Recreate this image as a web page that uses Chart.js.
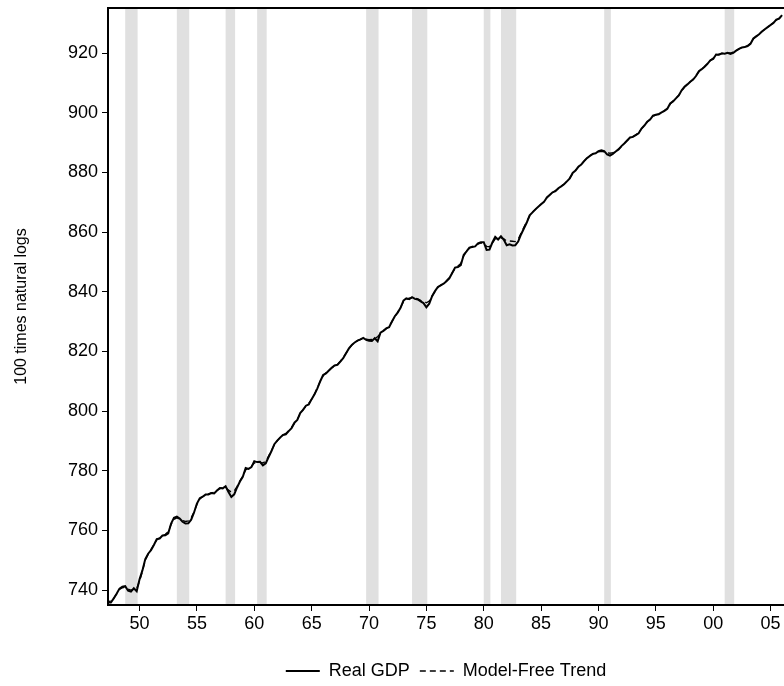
<!DOCTYPE html>
<html>
<head>
<meta charset="utf-8">
<script src="https://cdn.jsdelivr.net/npm/chart.js@4/dist/chart.umd.min.js"></script>
<style>
  html, body { margin: 0; padding: 0; background: #fff; }
  canvas { display: block; }
</style>
</head>
<body>
<canvas id="gdpChart" width="784" height="686"></canvas>
<script>
// quarterly, first value is 1947Q1 (100 x ln real GDP)
var firstYear = 1947
var realGdp = [
  735.9, 735.8, 735.8, 737.2,
  738.8, 740.5, 741.1, 741.3,
  739.8, 739.5, 740.6, 739.6,
  743.6, 746.6, 750.4, 752.2,
  753.4, 755.1, 757.1, 757.3,
  758.3, 758.4, 759.0, 762.3,
  764.2, 764.6, 764.0, 762.9,
  762.3, 762.4, 763.6, 766.0,
  769.0, 770.8, 771.3, 772.0,
  772.0, 772.5, 772.4, 773.4,
  774.2, 774.1, 774.8, 772.9,
  771.2, 772.1, 774.4, 776.4,
  778.0, 780.9, 780.6, 781.2,
  783.2, 782.9, 783.0, 781.8,
  782.5, 784.6, 786.6, 788.9,
  790.1, 791.1, 792.0, 792.2,
  793.3, 794.3, 796.1, 797.0,
  799.3, 800.4, 801.8, 802.2,
  804.0, 805.6, 807.6, 810.0,
  812.1, 812.6, 813.6, 814.5,
  815.3, 815.5, 816.6, 817.7,
  819.4, 821.0, 822.2, 823.0,
  823.6, 824.0, 824.5, 823.9,
  823.6, 823.5, 824.4, 823.4,
  826.3, 826.9, 827.7, 828.1,
  830.0, 831.8, 833.0, 834.6,
  837.0, 837.8, 837.5, 838.2,
  837.6, 837.4, 836.8, 836.2,
  834.8, 836.0, 838.5, 840.2,
  841.6, 842.1, 842.7, 843.5,
  844.5, 846.3, 848.1, 848.3,
  848.9, 852.3, 853.5, 854.8,
  855.0, 855.2, 856.2, 856.6,
  856.6, 854.0, 854.1, 856.5,
  858.4, 857.5, 858.6, 857.4,
  855.6, 855.9, 855.5, 855.6,
  856.8, 859.2, 861.2, 863.2,
  865.6, 866.6, 867.6, 868.5,
  869.3, 870.1, 871.6, 872.4,
  873.3, 873.7, 874.7, 875.3,
  876.0, 877.0, 878.0, 879.8,
  880.6, 881.9, 882.6, 883.8,
  884.8, 885.5, 886.2, 886.4,
  887.1, 887.4, 887.1, 886.0,
  885.6, 886.2, 887.0, 887.7,
  888.8, 889.7, 890.7, 891.7,
  891.9, 892.5, 893.1, 894.7,
  895.7, 897.0, 897.7, 899.0,
  899.3, 899.5, 900.1, 900.6,
  901.3, 903.1, 903.8, 904.8,
  905.8, 907.5, 908.7, 909.5,
  910.4, 911.1, 912.3, 913.9,
  914.6, 915.4, 916.4, 917.6,
  918.0, 919.5, 919.4, 919.9,
  919.8, 920.1, 919.7, 920.1,
  920.8, 921.4, 921.9, 922.0,
  922.3, 923.1, 924.9, 925.6,
  926.3, 927.2, 928.0, 928.7,
  929.4, 930.1, 931.2, 931.5,
  932.7
]
var modelFreeTrend = [
  735.6, 736.0, 736.4, 737.3,
  738.7, 740.2, 740.8, 741.0,
  740.3, 740.0, 740.3, 740.5,
  743.0, 746.3, 750.0, 752.0,
  753.6, 755.2, 756.8, 757.5,
  758.2, 758.7, 759.6, 762.0,
  763.7, 764.2, 763.8, 763.3,
  763.0, 763.2, 764.2, 766.2,
  768.7, 770.5, 771.3, 771.9,
  772.2, 772.6, 772.8, 773.4,
  774.0, 774.3, 774.3, 773.5,
  772.8, 773.2, 774.7, 776.6,
  778.2, 780.3, 780.9, 781.5,
  782.6, 783.0, 782.8, 782.6,
  783.1, 784.9, 786.8, 788.7,
  790.0, 791.1, 791.9, 792.5,
  793.4, 794.5, 795.9, 797.2,
  799.1, 800.5, 801.6, 802.6,
  804.0, 805.7, 807.8, 810.0,
  811.8, 812.8, 813.6, 814.5,
  815.2, 815.7, 816.7, 817.9,
  819.4, 820.9, 822.1, 823.0,
  823.6, 824.0, 824.2, 824.1,
  823.9, 824.0, 824.4, 824.9,
  826.0, 826.9, 827.6, 828.4,
  830.0, 831.7, 833.1, 834.8,
  836.6, 837.4, 837.8, 838.0,
  837.9, 837.6, 837.1, 836.8,
  836.3, 836.9, 838.6, 840.1,
  841.4, 842.2, 842.9, 843.7,
  844.7, 846.3, 847.8, 848.6,
  849.5, 852.0, 853.6, 854.6,
  855.2, 855.5, 856.0, 856.4,
  856.2, 855.2, 855.1, 856.3,
  857.7, 857.9, 858.1, 857.7,
  857.0, 857.0, 856.9, 856.8,
  857.6, 859.6, 861.6, 863.5,
  865.4, 866.7, 867.6, 868.5,
  869.4, 870.2, 871.5, 872.5,
  873.2, 873.9, 874.6, 875.4,
  876.1, 877.0, 878.2, 879.6,
  880.7, 881.8, 882.8, 883.8,
  884.8, 885.6, 886.1, 886.6,
  886.9, 887.1, 886.9, 886.6,
  886.4, 886.6, 887.1, 887.8,
  888.7, 889.7, 890.7, 891.5,
  892.0, 892.6, 893.3, 894.6,
  895.7, 896.9, 897.8, 898.8,
  899.3, 899.6, 900.1, 900.7,
  901.5, 902.9, 903.9, 904.8,
  905.9, 907.4, 908.6, 909.6,
  910.4, 911.2, 912.4, 913.7,
  914.6, 915.5, 916.4, 917.5,
  918.3, 919.2, 919.6, 919.8,
  919.9, 920.0, 920.0, 920.3,
  920.8, 921.4, 921.8, 922.2,
  922.5, 923.3, 924.7, 925.6,
  926.4, 927.2, 928.0, 928.7,
  929.4, 930.2, 931.0, 931.7,
  932.6
]
// recession shading, [start, end] in years
var recessionStart = [1948.75, 1953.25, 1957.5, 1960.25, 1969.75, 1973.75, 1980.0, 1981.5, 1990.5, 2001.0]
var recessionEnd   = [1949.83, 1954.33, 1958.33, 1961.08, 1970.83, 1975.08, 1980.58, 1982.83, 1991.08, 2001.83]
var xTicks = [1950, 1955, 1960, 1965, 1970, 1975, 1980, 1985, 1990, 1995, 2000, 2005]
var yTicks = [740, 760, 780, 800, 820, 840, 860, 880, 900, 920]

function toPoints(arr){
  return arr.map(function(v, i){ return { x: firstYear + i / 4, y: v } })
}

var FONT = 'Arial, "Liberation Sans", Helvetica, sans-serif'

// grey bars behind everything, plus the top frame line
var recessionPlugin = {
  id: 'recessions',
  afterLayout: function(chart){
    // nudge the legend a little lower, like the original
    if (chart.legend) { chart.legend.top += 4; chart.legend.bottom += 4 }
  },
  beforeDraw: function(chart){
    var ctx = chart.ctx, area = chart.chartArea, xs = chart.scales.x
    ctx.save()
    ctx.fillStyle = '#e0e0e0'
    for (var i = 0; i < recessionStart.length; i++) {
      var a = xs.getPixelForValue(recessionStart[i])
      var b = xs.getPixelForValue(recessionEnd[i])
      ctx.fillRect(a, area.top, b - a, area.bottom - area.top)
    }
    ctx.restore()
  },
  afterDraw: function(chart){
    var ctx = chart.ctx, area = chart.chartArea
    ctx.save()
    ctx.strokeStyle = '#000'
    ctx.lineWidth = 2
    ctx.beginPath()
    ctx.moveTo(area.left - 1, area.top)
    ctx.lineTo(chart.width, area.top)
    ctx.stroke()
    ctx.restore()
  }
}

new Chart(document.getElementById('gdpChart'), {
  type: 'line',
  data: {
    datasets: [{
      label: 'Real GDP',
      data: toPoints(realGdp),
      borderColor: '#000',
      borderWidth: 2,
      pointRadius: 0,
      tension: 0,
      fill: false
    }, {
      label: 'Model-Free Trend',
      data: toPoints(modelFreeTrend),
      borderColor: '#000',
      borderWidth: 1.4,
      borderDash: [6, 4],
      pointRadius: 0,
      tension: 0,
      fill: false
    }]
  },
  plugins: [recessionPlugin],
  options: {
    responsive: false,
    animation: false,
    layout: { padding: { top: 8, right: 0, bottom: 0, left: 0 } },
    plugins: {
      legend: {
        display: true,
        position: 'bottom',
        fullSize: false,
        labels: {
          usePointStyle: true,
          pointStyle: 'line',
          pointStyleWidth: 34,
          color: '#000',
          font: { family: FONT, size: 18 },
          padding: 10,
          // take dash + width from the dataset line, not from the (hidden) points
          generateLabels: function(chart){
            var items = Chart.defaults.plugins.legend.labels.generateLabels(chart)
            items.forEach(function(it){
              var ds = chart.data.datasets[it.datasetIndex]
              it.lineDash = ds.borderDash || []
              it.lineWidth = ds.borderWidth
              it.strokeStyle = '#000'
            })
            return items
          }
        }
      },
      tooltip: { enabled: false }
    },
    scales: {
      x: {
        type: 'linear',
        min: 1947.25,
        max: 2006.17,
        afterBuildTicks: function(scale){
          scale.ticks = xTicks.map(function(v){ return { value: v } })
        },
        afterFit: function(scale){
          scale.height = 43
          scale.paddingLeft = 0
          scale.paddingRight = 0
        },
        grid: { drawOnChartArea: false, drawTicks: true, tickLength: 6, tickColor: '#000', tickWidth: 1 },
        border: { display: true, color: '#000', width: 2 },
        ticks: {
          autoSkip: false,
          maxRotation: 0,
          padding: 2,
          color: '#000',
          font: { family: FONT, size: 18 },
          callback: function(v){ return String(v % 100).padStart(2, '0') }
        }
      },
      y: {
        type: 'linear',
        min: 735,
        max: 935.1,
        afterBuildTicks: function(scale){
          scale.ticks = yTicks.map(function(v){ return { value: v } })
        },
        afterFit: function(scale){
          scale.width = 108
          scale.paddingTop = 0
          scale.paddingBottom = 0
        },
        grid: { drawOnChartArea: false, drawTicks: true, tickLength: 6, tickColor: '#000', tickWidth: 1 },
        border: { display: true, color: '#000', width: 2 },
        ticks: {
          padding: 4,
          color: '#000',
          font: { family: FONT, size: 18 }
        },
        title: {
          display: true,
          text: '100 times natural logs',
          color: '#000',
          font: { family: FONT, size: 16 },
          padding: { top: 12, bottom: 0 }
        }
      }
    }
  }
})
</script>
</body>
</html>
